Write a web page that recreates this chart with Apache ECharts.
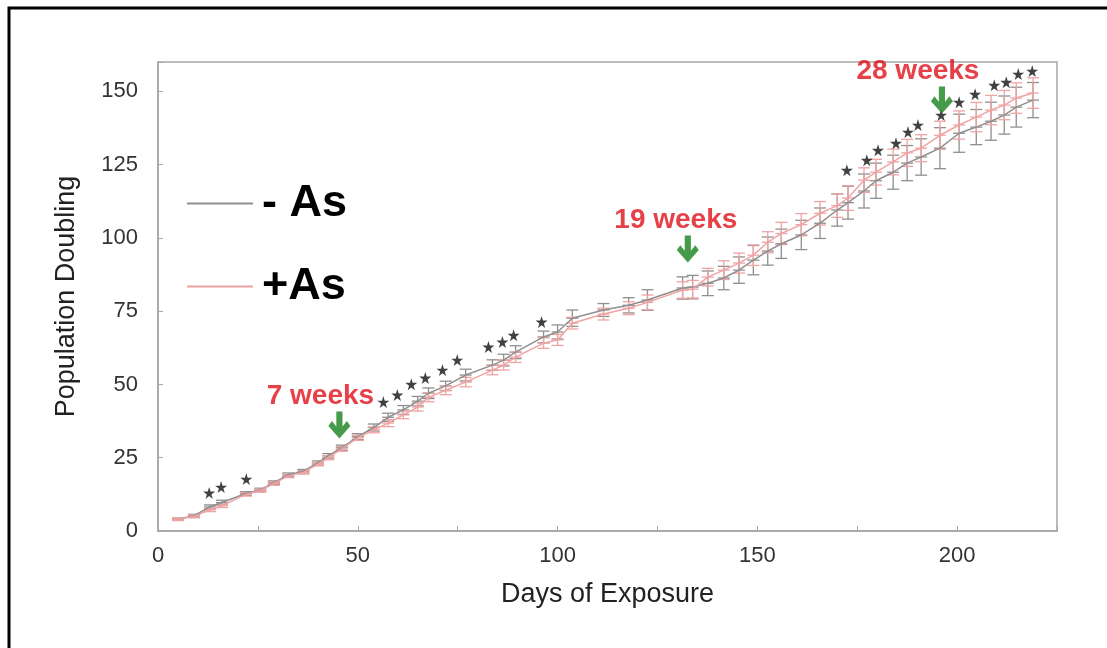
<!DOCTYPE html>
<html>
<head>
<meta charset="utf-8">
<script src="https://cdn.jsdelivr.net/npm/echarts@6/dist/echarts.min.js"></script>
<style>
  html, body { margin: 0; padding: 0; background: #fff; }
  #chart { width: 1107px; height: 648px; }
</style>
</head>
<body>
<div id="chart"></div>
<script>
var myChart = echarts.init(document.getElementById("chart"));

// days at which both groups were counted
var days = [5, 9, 13, 16, 22, 25.6, 29, 32.6, 36.4, 40, 42.6, 46, 50, 54, 57.6, 61.4, 65, 67.7, 72, 77,
	83.7, 86.5, 89.5, 96.5, 100, 103.7, 111.5, 117.8, 122.5, 131.3, 133.8, 137.6, 141.6, 145.4, 149,
	152.6, 156, 161, 165.7, 170, 172.7, 176.7, 179.7, 184, 187.5, 191, 195.7, 200.5, 204.8, 208.5,
	211.8, 214.8, 219];

// - As (control)
var ctrlMean = [4.0, 5.2, 8.2, 9.7, 12.8, 14.0, 16.5, 19.2, 20.4, 23.2, 25.6, 28.4, 32.2, 35.3, 38.8, 41.3,
	44.3, 47.0, 49.5, 53.2, 56.6, 58.3, 61.0, 66.2, 67.9, 72.6, 75.4, 77.0, 78.8, 82.9, 83.2, 84.5, 86.3,
	89.0, 92.4, 95.5, 98.0, 101.0, 105.0, 109.5, 112.0, 116.0, 119.5, 122.4, 125.5, 127.6, 130.6, 135.7,
	137.8, 139.8, 141.9, 144.6, 147.0];
var ctrlErr = [0.4, 0.5, 0.7, 0.8, 0.6, 0.6, 0.6, 0.6, 0.6, 0.7, 0.8, 0.9, 1.0, 1.2, 1.4, 1.5, 1.6, 1.8,
	1.6, 2.0, 1.8, 2.0, 2.2, 2.0, 2.4, 2.8, 2.2, 2.6, 3.5, 3.8, 4.0, 4.2, 4.0, 4.5, 5.0, 4.8, 5.0, 5.0,
	5.2, 5.5, 5.6, 5.8, 6.0, 5.8, 6.0, 6.2, 7.0, 6.5, 6.0, 6.5, 6.5, 6.8, 6.0];

// +As (arsenic exposed)
var asMean = [4.0, 5.0, 7.2, 8.6, 12.5, 13.8, 16.2, 18.8, 20.0, 22.8, 25.0, 28.0, 31.8, 34.5, 36.8, 39.6,
	42.3, 45.6, 48.0, 50.8, 54.9, 56.6, 59.3, 64.1, 65.2, 70.9, 74.0, 76.0, 78.0, 82.2, 82.5, 86.6, 89.0,
	91.4, 94.1, 98.5, 101.5, 104.5, 108.4, 111.0, 113.6, 119.7, 122.4, 125.9, 129.0, 130.6, 135.0, 138.5,
	141.2, 143.6, 145.3, 147.7, 149.4];
var asErr = [0.4, 0.5, 0.6, 0.6, 0.6, 0.5, 0.6, 0.6, 0.6, 0.6, 0.7, 0.8, 0.9, 1.0, 1.2, 1.3, 1.4, 1.5,
	1.5, 1.6, 1.6, 1.7, 1.8, 1.8, 1.9, 2.0, 2.0, 2.2, 2.5, 2.8, 3.0, 3.0, 3.2, 3.4, 3.5, 3.6, 3.8, 3.8,
	4.0, 4.0, 4.2, 4.2, 4.4, 4.4, 4.6, 4.6, 4.8, 4.8, 5.0, 5.0, 5.0, 5.2, 5.2];

// significance stars [day, position]
var stars = [[12.8, 13.0], [15.8, 15.0], [22.1, 17.7], [56.4, 44.0], [59.9, 46.4], [63.4, 50.1],
	[66.9, 52.2], [71.2, 54.9], [74.9, 58.3], [82.7, 62.8], [86.2, 64.5], [89.0, 66.8], [96.0, 71.3],
	[172.4, 123.1], [177.4, 126.5], [180.2, 129.9], [184.7, 132.3], [187.7, 136.1], [190.2, 138.5],
	[196.0, 141.9], [200.5, 146.3], [204.5, 149.0], [209.3, 152.1], [212.3, 153.1], [215.3, 155.9],
	[218.8, 156.9]];

// arrows with week labels
var arrowDays = [45.4, 132.6, 196.2];
var arrowVals = [36.2, 96.2, 147.0];
var arrowText = ["7 weeks", "19 weeks", "28 weeks"];
var arrowShift = [-19, -12, -24];

var FONT = "Liberation Sans, Arial, sans-serif";
var GRAY = "#8f8f8f";
var PINK = "#f0a3a3";

function pairs(xs, ys, es) {
	return xs.map(function (x, i) {
		return es ? [x, ys[i], es[i]] : [x, ys[i]];
	});
}

function errorBars(color) {
	return function (params, api) {
		var x = api.value(0), m = api.value(1), e = api.value(2);
		var top = api.coord([x, m + e]);
		var bot = api.coord([x, m - e]);
		var mid = api.coord([x, m]);
		var hw = 6;
		var st = { stroke: color, lineWidth: 1.3 };
		return {
			type: "group",
			children: [
				{ type: "line", shape: { x1: top[0], y1: top[1], x2: bot[0], y2: bot[1] }, style: st },
				{ type: "line", shape: { x1: top[0] - hw, y1: top[1], x2: top[0] + hw, y2: top[1] }, style: st },
				{ type: "line", shape: { x1: bot[0] - hw, y1: bot[1], x2: bot[0] + hw, y2: bot[1] }, style: st },
				{ type: "line", shape: { x1: mid[0] - hw, y1: mid[1], x2: mid[0] + hw, y2: mid[1] }, style: st }
			]
		};
	};
}

var starPath = "path://M50,0 L61,35 L98,35 L68,57 L79,91 L50,70 L21,91 L32,57 L2,35 L39,35 Z";
var arrowPath = "path://M36,0 L64,0 L64,56 L84,36 L100,54 L50,100 L0,54 L16,36 L36,56 Z";

var option = {
	animation: false,
	graphic: [
		{
			type: "rect",
			shape: { x: 9, y: 8, width: 1200, height: 700 },
			style: { fill: "none", stroke: "#000", lineWidth: 3 }
		}
	],
	grid: {
		left: 158,
		top: 62,
		right: 50,
		bottom: 117,
		show: true,
		borderColor: "#a6a6a6",
		borderWidth: 1.5
	},
	legend: {
		orient: "vertical",
		left: 182,
		top: 176,
		itemWidth: 66,
		itemHeight: 2,
		itemGap: 38,
		icon: "rect",
		data: ["- As", "+As"],
		textStyle: {
			fontFamily: FONT,
			fontSize: 45,
			fontWeight: "bold",
			color: "#000",
			padding: [0, 0, 0, 4]
		}
	},
	xAxis: {
		type: "value",
		min: 0,
		max: 225,
		interval: 25,
		name: "Days of Exposure",
		nameLocation: "middle",
		nameGap: 50,
		nameTextStyle: { fontFamily: FONT, fontSize: 27, color: "#222" },
		axisLine: { lineStyle: { color: "#a6a6a6", width: 1.5 } },
		axisTick: { inside: true, length: 5, lineStyle: { color: "#a6a6a6" } },
		splitLine: { show: false },
		axisLabel: {
			margin: 14,
			fontFamily: FONT,
			fontSize: 22,
			color: "#333",
			formatter: function (v) { return v % 50 === 0 ? v : ""; }
		}
	},
	yAxis: {
		type: "value",
		min: 0,
		max: 160,
		interval: 25,
		name: "Population Doubling",
		nameLocation: "middle",
		nameGap: 78,
		nameTextStyle: { fontFamily: FONT, fontSize: 27, color: "#222" },
		axisLine: { show: true, lineStyle: { color: "#a6a6a6", width: 1.5 } },
		axisTick: { show: true, inside: true, length: 5, lineStyle: { color: "#a6a6a6" } },
		splitLine: { show: false },
		axisLabel: {
			margin: 20,
			fontFamily: FONT,
			fontSize: 22,
			color: "#333",
			formatter: function (v) { return v % 25 === 0 && v <= 150 ? v : ""; }
		}
	},
	series: [
		{
			name: "- As",
			type: "line",
			data: pairs(days, ctrlMean),
			symbol: "none",
			itemStyle: { color: GRAY },
			lineStyle: { color: GRAY, width: 1.5 },
			z: 3
		},
		{
			name: "+As",
			type: "line",
			data: pairs(days, asMean),
			symbol: "none",
			itemStyle: { color: PINK },
			lineStyle: { color: PINK, width: 1.5 },
			z: 3
		},
		{
			name: "ctrlErr",
			type: "custom",
			renderItem: errorBars(GRAY),
			encode: { x: 0, y: 1 },
			data: pairs(days, ctrlMean, ctrlErr),
			z: 2
		},
		{
			name: "asErr",
			type: "custom",
			renderItem: errorBars(PINK),
			encode: { x: 0, y: 1 },
			data: pairs(days, asMean, asErr),
			z: 2
		},
		{
			name: "stars",
			type: "scatter",
			symbol: starPath,
			symbolSize: 12,
			itemStyle: { color: "#111" },
			data: stars,
			z: 4
		},
		{
			name: "arrows",
			type: "scatter",
			symbol: arrowPath,
			symbolSize: [22, 27],
			itemStyle: { color: "#17821b" },
			data: arrowDays.map(function (d, i) {
				return {
					value: [d, arrowVals[i]],
					name: arrowText[i],
					label: { offset: [arrowShift[i], 0] }
				};
			}),
			label: {
				show: true,
				position: "top",
				distance: 1,
				formatter: "{b}",
				fontFamily: FONT,
				fontSize: 28,
				fontWeight: "bold",
				color: "#e0101a"
			},
			z: 5
		}
	]
};

myChart.setOption(option);

window.addEventListener("resize", function () {
	myChart.resize();
});
</script>
</body>
</html>
